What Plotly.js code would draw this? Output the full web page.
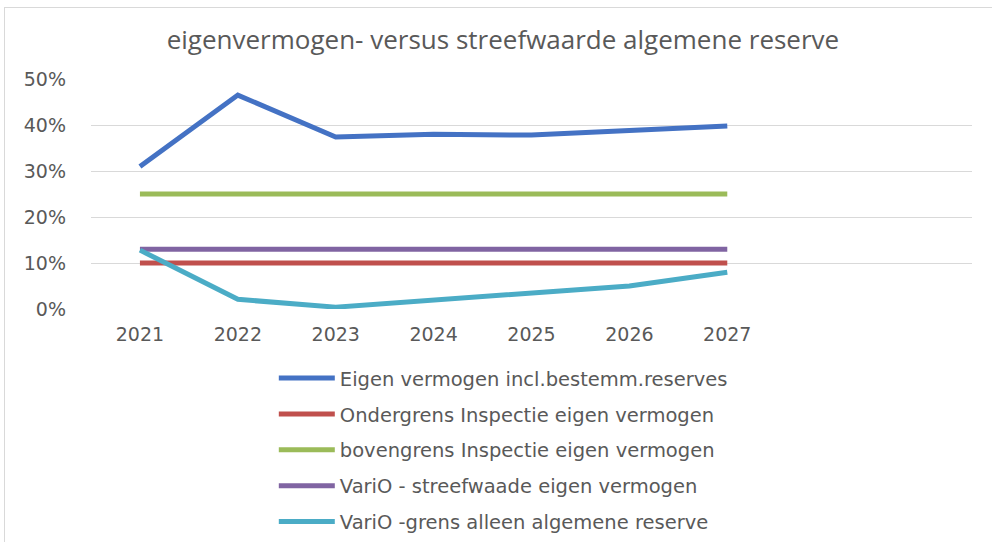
<!DOCTYPE html>
<html>
<head>
<meta charset="utf-8">
<script src="https://cdn.plot.ly/plotly-3.0.1.min.js"></script>
<style>
  body { margin: 0; background: #fff; overflow: hidden; }
  #chart { width: 992px; height: 570px; }
  #frame { position: absolute; left: 4px; top: 7px; width: 992px; height: 560px;
           border: 1px solid #d9d9d9; pointer-events: none; }
</style>
</head>
<body>
<div id="chart"></div>
<div id="frame"></div>
<script>
// years on the axis (two empty slots at the end, like the original)
var years = ["2021", "2022", "2023", "2024", "2025", "2026", "2027"];

var eigenVermogen = [0.31, 0.465, 0.374, 0.38, 0.378, 0.389, 0.398];
var ondergrens    = [0.10, 0.10, 0.10, 0.10, 0.10, 0.10, 0.10];
var bovengrens    = [0.25, 0.25, 0.25, 0.25, 0.25, 0.25, 0.25];
var streefwaarde  = [0.13, 0.13, 0.13, 0.13, 0.13, 0.13, 0.13];
var algReserve    = [0.128, 0.021, 0.004, 0.019, 0.034, 0.05, 0.08];

var names = [
    "Eigen vermogen incl.bestemm.reserves",
    "Ondergrens Inspectie eigen vermogen",
    "bovengrens Inspectie eigen vermogen",
    "VariO - streefwaade eigen vermogen",
    "VariO -grens alleen algemene reserve"
];
var colors = ["#4472C4", "#C0504D", "#9BBB59", "#8064A2", "#4BACC6"];
var series = [eigenVermogen, ondergrens, bovengrens, streefwaarde, algReserve];

// draw order: flat lines first, then the two moving ones on top
var drawOrder = [2, 3, 1, 0, 4];
var data = [];
drawOrder.forEach(function (i) {
    data.push({
        x: years,
        y: series[i],
        name: names[i],
        type: "scatter",
        mode: "lines",
        line: {color: colors[i], width: 5},
        legendgroup: "g" + i,
        legendrank: i + 1,
        hoverinfo: "none"
    });
});

// figure is a bit taller than the window so the legend has room;
// everything below 542px is simply cut off
var layout = {
    width: 992,
    height: 570,
    paper_bgcolor: "#fff",
    plot_bgcolor: "#fff",
    font: {family: "DejaVu Sans, sans-serif", color: "#595959", size: 19},
    title: {
        text: "eigenvermogen- versus streefwaarde algemene reserve",
        font: {family: "Open Sans, sans-serif", size: 26, color: "#595959"},
        x: 0.507, xref: "container", xanchor: "center",
        y: 1 - 40 / 570, yanchor: "middle"
    },
    margin: {
        t: 79,  //top
        l: 91,  //left
        r: 20,  //right
        b: 261  //bottom
    },
    xaxis: {
        type: "category",
        range: [-0.5, 8.5],
        showgrid: false,
        zeroline: false,
        showline: false,
        ticks: "",
        tickangle: 0,
        ticklabelstandoff: 12,
        tickfont: {size: 19, color: "#595959"},
        fixedrange: true
    },
    yaxis: {
        range: [0, 0.5],
        dtick: 0.1,
        tickformat: ".0%",
        gridcolor: "#d9d9d9",
        gridwidth: 1,
        zeroline: false,
        showline: false,
        ticks: "",
        ticklabelstandoff: 24,
        tickfont: {size: 19, color: "#595959"},
        fixedrange: true
    },
    showlegend: true,
    legend: {
        orientation: "v",
        x: 0.2075,
        xanchor: "left",
        y: -0.217,
        yanchor: "top",
        tracegroupgap: 7.5,
        itemwidth: 56,
        font: {size: 19.5, color: "#595959"},
        bgcolor: "rgba(0,0,0,0)"
    }
};

Plotly.newPlot("chart", data, layout, {displayModeBar: false, staticPlot: true});
</script>
</body>
</html>
